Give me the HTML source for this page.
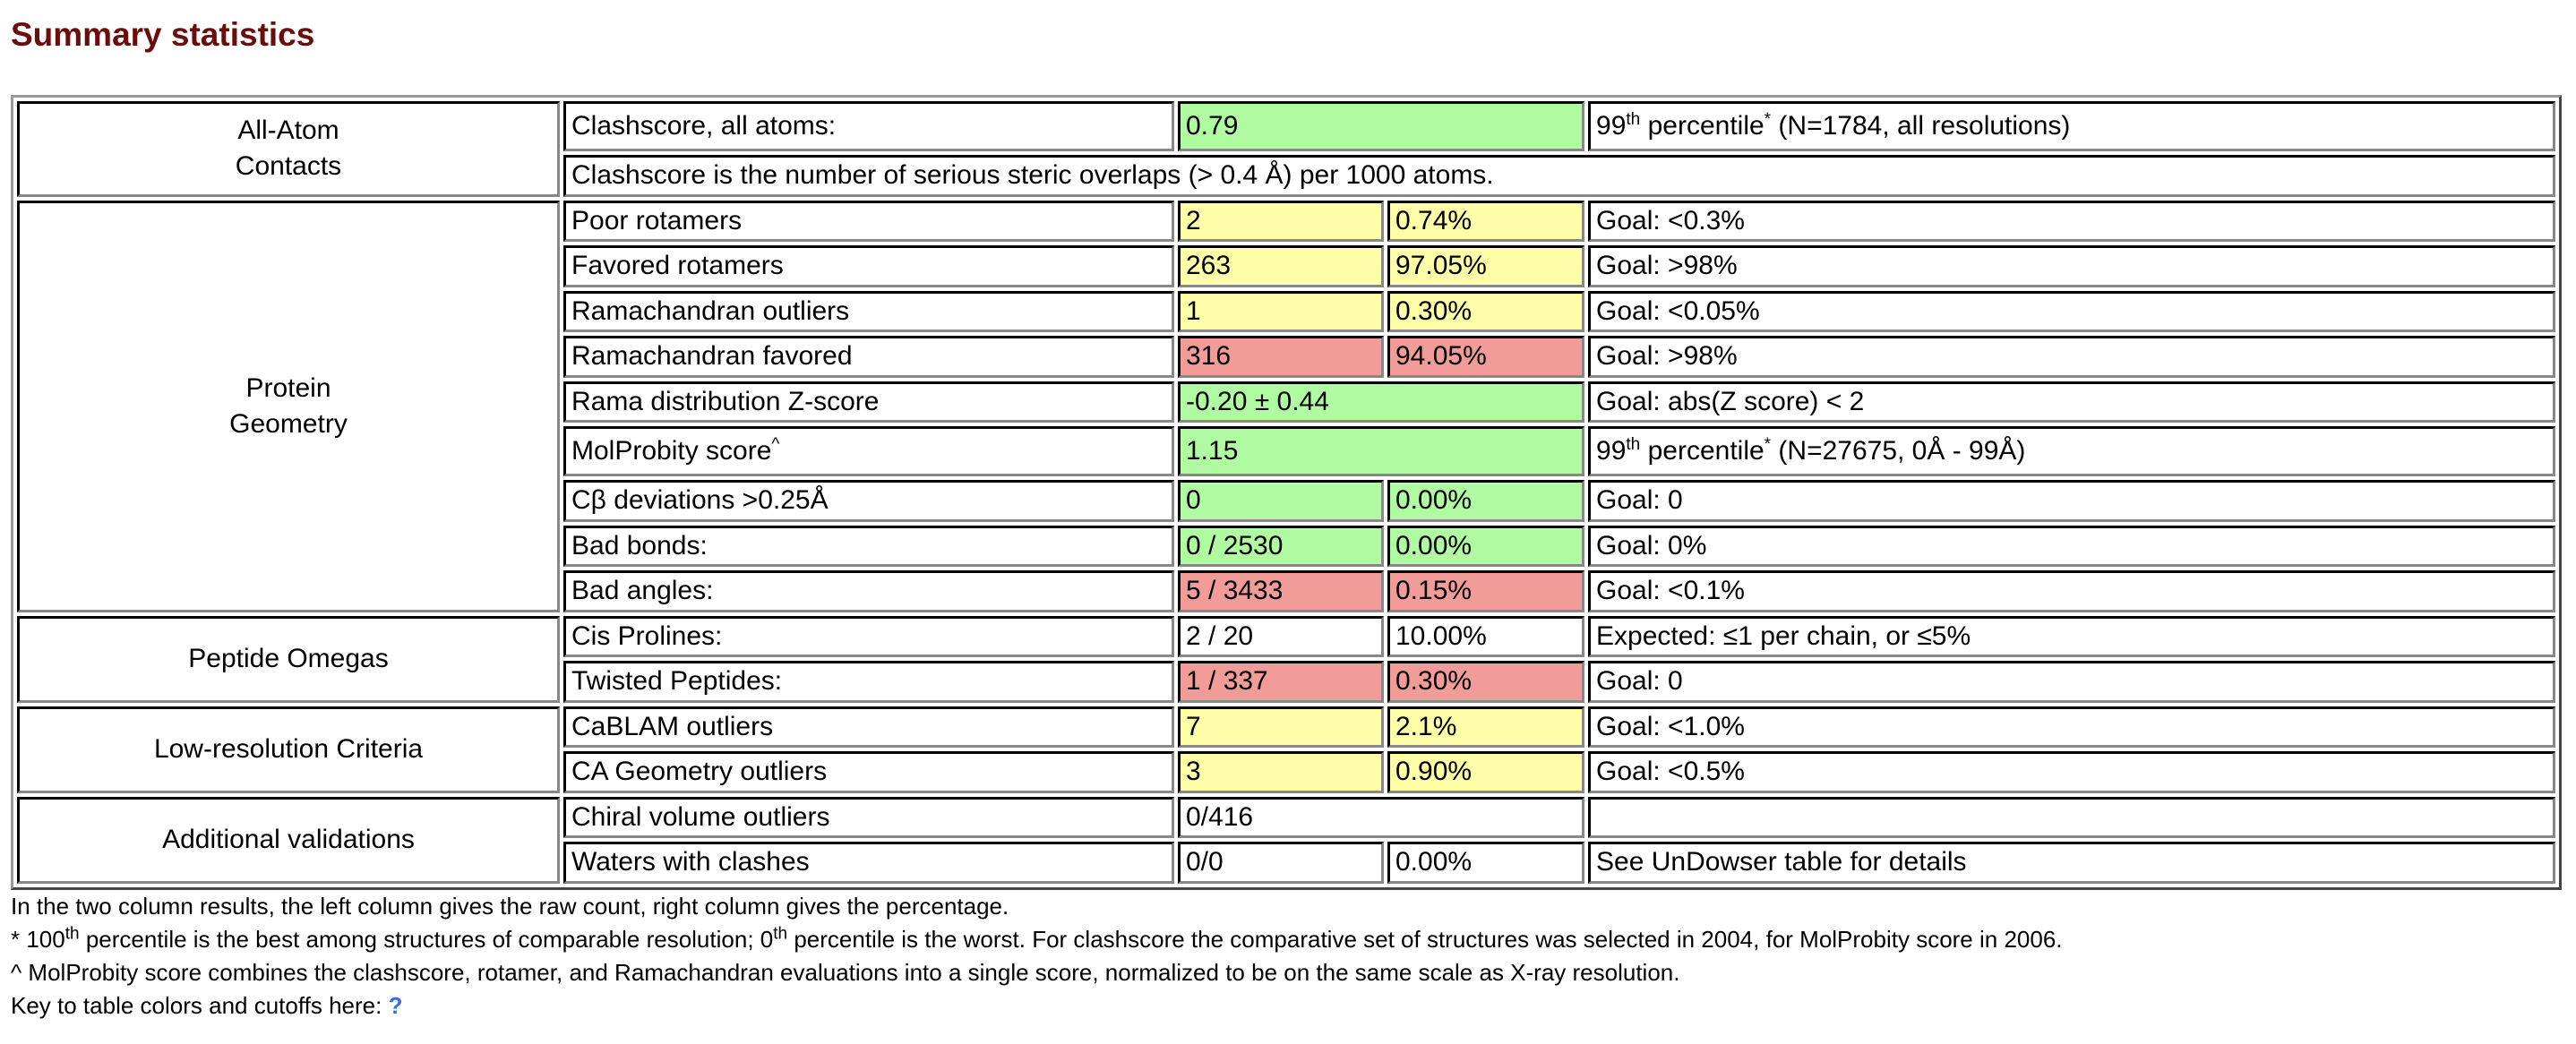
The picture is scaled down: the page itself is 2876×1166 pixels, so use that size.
<!DOCTYPE html>
<html><head><meta charset="utf-8">
<style>
body{margin:0;width:2876px;height:1166px;background:#fff;font-family:"Liberation Sans",sans-serif;color:#000;overflow:hidden}
h2{position:absolute;left:12px;top:18px;margin:0;font-size:37px;font-weight:bold;color:#6b0d0d}
table{position:absolute;left:12px;top:106px;width:2846px;table-layout:fixed;border-collapse:separate;border-spacing:4px;border:3px outset #999}
td{border:3px inset #888;border-top-color:#333;border-left-color:#333;border-bottom-color:#888;border-right-color:#888;height:40.5px;padding:0 6px;font-size:30px;white-space:nowrap;overflow:hidden}
td.h{text-align:center;line-height:40px}
.g{background:#b0fba2}.y{background:#fefea8}.r{background:#f19c99}
sup{font-size:19px;line-height:0}
.tall td{height:50px}
.notes{position:absolute;left:12px;top:994px;font-size:26px;line-height:37px}
</style></head><body>
<h2>Summary statistics</h2>
<table>
<colgroup><col style="width:606px"><col style="width:682px"><col style="width:230px"><col style="width:220px"><col style="width:1080px"></colgroup>
<tr class="tall"><td class="h" rowspan="2">All-Atom<br>Contacts</td><td>Clashscore, all atoms:</td><td class="g" colspan="2">0.79</td><td>99<sup>th</sup> percentile<sup>*</sup> (N=1784, all resolutions)</td></tr>
<tr><td colspan="4">Clashscore is the number of serious steric overlaps (&gt; 0.4 Å) per 1000 atoms.</td></tr>
<tr><td class="h" rowspan="9">Protein<br>Geometry</td><td>Poor rotamers</td><td class="y">2</td><td class="y">0.74%</td><td>Goal: &lt;0.3%</td></tr>
<tr><td>Favored rotamers</td><td class="y">263</td><td class="y">97.05%</td><td>Goal: &gt;98%</td></tr>
<tr><td>Ramachandran outliers</td><td class="y">1</td><td class="y">0.30%</td><td>Goal: &lt;0.05%</td></tr>
<tr><td>Ramachandran favored</td><td class="r">316</td><td class="r">94.05%</td><td>Goal: &gt;98%</td></tr>
<tr><td>Rama distribution Z-score</td><td class="g" colspan="2">-0.20 ± 0.44</td><td>Goal: abs(Z score) &lt; 2</td></tr>
<tr class="tall"><td>MolProbity score<sup>^</sup></td><td class="g" colspan="2">1.15</td><td>99<sup>th</sup> percentile<sup>*</sup> (N=27675, 0Å - 99Å)</td></tr>
<tr><td>Cβ deviations &gt;0.25Å</td><td class="g">0</td><td class="g">0.00%</td><td>Goal: 0</td></tr>
<tr><td>Bad bonds:</td><td class="g">0 / 2530</td><td class="g">0.00%</td><td>Goal: 0%</td></tr>
<tr><td>Bad angles:</td><td class="r">5 / 3433</td><td class="r">0.15%</td><td>Goal: &lt;0.1%</td></tr>
<tr><td class="h" rowspan="2">Peptide Omegas</td><td>Cis Prolines:</td><td>2 / 20</td><td>10.00%</td><td>Expected: ≤1 per chain, or ≤5%</td></tr>
<tr><td>Twisted Peptides:</td><td class="r">1 / 337</td><td class="r">0.30%</td><td>Goal: 0</td></tr>
<tr><td class="h" rowspan="2">Low-resolution Criteria</td><td>CaBLAM outliers</td><td class="y">7</td><td class="y">2.1%</td><td>Goal: &lt;1.0%</td></tr>
<tr><td>CA Geometry outliers</td><td class="y">3</td><td class="y">0.90%</td><td>Goal: &lt;0.5%</td></tr>
<tr><td class="h" rowspan="2">Additional validations</td><td>Chiral volume outliers</td><td colspan="2">0/416</td><td></td></tr>
<tr><td>Waters with clashes</td><td>0/0</td><td>0.00%</td><td>See UnDowser table for details</td></tr>
</table>
<div class="notes">
<div>In the two column results, the left column gives the raw count, right column gives the percentage.</div>
<div>* 100<sup>th</sup> percentile is the best among structures of comparable resolution; 0<sup>th</sup> percentile is the worst. For clashscore the comparative set of structures was selected in 2004, for MolProbity score in 2006.</div>
<div>^ MolProbity score combines the clashscore, rotamer, and Ramachandran evaluations into a single score, normalized to be on the same scale as X-ray resolution.</div>
<div>Key to table colors and cutoffs here: <span style="color:#3a6fe0;font-weight:bold">?</span></div>
</div>
</body></html>
